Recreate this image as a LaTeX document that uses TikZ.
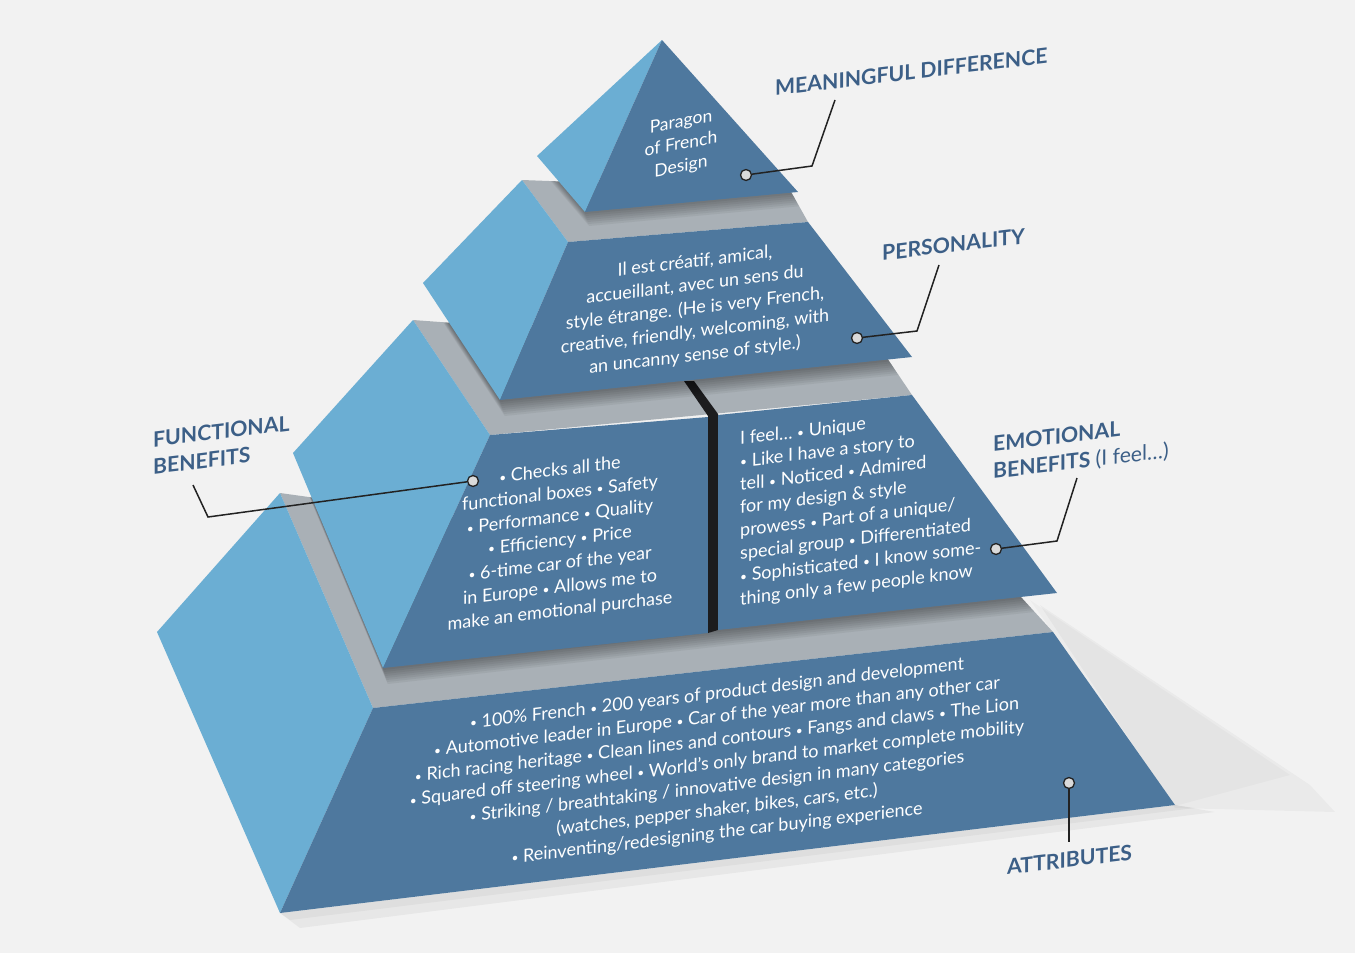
\documentclass[tikz,border=0pt]{standalone}
\usepackage{fontspec}
\setmainfont{Lato}
\definecolor{bg}{HTML}{F2F2F2}
\definecolor{sideblue}{HTML}{6BAED3}
\definecolor{frontblue}{HTML}{4E789E}
\definecolor{ledge}{HTML}{A9B0B6}
\definecolor{divider}{HTML}{1C1C1E}
\definecolor{labelblue}{HTML}{3C5F87}
\definecolor{linecol}{HTML}{222222}
\definecolor{dotfill}{HTML}{DADADA}
\newcommand\bu{{\fontsize{12}{12}\selectfont\raisebox{0.12ex}{•}}}
\begin{document}
\begin{tikzpicture}[x=1pt,y=-1pt,
  side/.style={fill=sideblue},
  front/.style={fill=frontblue},
  ledgetop/.style={fill=ledge},
  body/.style={text=white, align=center, inner sep=0pt, yslant=0.12,
    font=\fontsize{18}{23.5}\selectfont},
  lab/.style={text=labelblue, inner sep=0pt, yslant=0.12, align=left,
    font=\fontsize{21.2}{27}\selectfont\bfseries},
  conn/.style={draw=linecol, line width=1.5pt},
  dot/.style={circle, draw=linecol, fill=dotfill, line width=1.3pt,
    minimum size=11pt, inner sep=0pt}]

% background
\path[use as bounding box, fill=bg] (0,0) rectangle (1355,953);

% floor shadows
\fill[black, opacity=0.03] (1040,605) -- (1310,785) -- (1335,812) -- (1175,808) -- cycle;
\fill[black, opacity=0.025] (1030,600) -- (1290,775) -- (1175,806) -- cycle;
\fill[black, opacity=0.045] (280,913) -- (1175,805) -- (1215,812) -- (300,928) -- cycle;
\fill[black, opacity=0.035] (280,913) -- (1175,805) -- (1195,808) -- (290,920) -- cycle;

% ---------------- tier 4 (attributes)
\fill[ledgetop] (280,493) -- (1020,596) -- (1053,632) -- (373,708) -- cycle;
\fill[side] (280,493) -- (373,708) -- (280,913) -- (157,632) -- cycle;
\fill[front] (373,708) -- (1053,632) -- (1175,805) -- (280,913) -- cycle;
% shadow of tier 3 on the ledge
\begin{scope}
  \clip (280,493) -- (1020,596) -- (1053,632) -- (373,708) -- cycle;
  \foreach \s in {2,4,...,16}
    \fill[black, opacity=0.05, shift={(0.3*\s,\s)}]
      (413,320) -- (293,453) -- (383,668) -- (718,630) -- (1057,593) -- (912,395) -- cycle;
\end{scope}

% ---------------- tier 3 (functional / emotional)
\fill[ledgetop] (413,320) -- (885,355) -- (912,395) -- (490,435) -- cycle;
\fill[side] (413,320) -- (490,435) -- (383,668) -- (293,453) -- cycle;
\fill[front] (490,435) -- (708,417) -- (708,633) -- (383,668) -- cycle;
\fill[divider] (684,381) -- (694,381) -- (718,414) -- (718,630) -- (708,633) -- (708,416) -- cycle;
\fill[front] (718,415) -- (912,395) -- (1057,593) -- (718,630) -- cycle;
% shadow of tier 2
\begin{scope}
  \clip (413,320) -- (885,355) -- (912,395) -- (490,435) -- cycle;
  \foreach \s in {2,4,...,16}
    \fill[black, opacity=0.05, shift={(0.3*\s,\s)}]
      (522,180) -- (423,283) -- (500,400) -- (912,357) -- (808,222) -- cycle;
\end{scope}

% ---------------- tier 2 (personality)
\fill[ledgetop] (522,180) -- (790,190) -- (808,222) -- (568,242) -- cycle;
\fill[side] (522,180) -- (568,242) -- (500,400) -- (423,283) -- cycle;
\fill[front] (568,242) -- (808,222) -- (912,357) -- (500,400) -- cycle;
% shadow of tier 1
\begin{scope}
  \clip (522,180) -- (790,190) -- (808,222) -- (568,242) -- cycle;
  \foreach \s in {2,4,...,14}
    \fill[black, opacity=0.05, shift={(0.3*\s,\s)}]
      (662,40) -- (537,156) -- (585,212) -- (798,192) -- cycle;
\end{scope}

% ---------------- tier 1 (meaningful difference)
\fill[side] (662,40) -- (537,156) -- (585,212) -- cycle;
\fill[front] (662,40) -- (585,212) -- (798,192) -- cycle;

% ---------------- texts on the faces
\node[body, yslant=0.07, font=\fontsize{17.5}{22.5}\selectfont] (ttop) at (681,145)
  {Paragon\\of French\\Design};
\node[body] (tpers) at (695,309)
  {Il est créatif, amical,\\accueillant, avec un sens du\\style étrange. (He is very French,\\creative, friendly, welcoming, with\\an uncanny sense of style.)};
\node[body] (tfunc) at (560,541)
  {\bu{} Checks all the\\functional boxes \bu{} Safety\\\bu{} Performance \bu{} Quality\\\bu{} Efficiency \bu{} Price\\\bu{} 6-time car of the year\\in Europe \bu{} Allows me to\\make an emotional purchase};
\node[body, align=left, anchor=west, font=\fontsize{18}{22.9}\selectfont] (temo) at (740,520)
  {I feel… \bu{} Unique\\\bu{} Like I have a story to\\tell \bu{} Noticed \bu{} Admired\\for my design \& style\\prowess \bu{} Part of a unique/\\special group \bu{} Differentiated\\\bu{} Sophisticated \bu{} I know some-\\thing only a few people know};
\node[body, font=\fontsize{18}{23.3}\selectfont] (tattr) at (717,764)
  {\bu{} 100\% French \bu{} 200 years of product design and development\\\bu{} Automotive leader in Europe \bu{} Car of the year more than any other car\\\bu{} Rich racing heritage \bu{} Clean lines and contours \bu{} Fangs and claws \bu{} The Lion\\\bu{} Squared off steering wheel \bu{} World’s only brand to market complete mobility\\\bu{} Striking / breathtaking / innovative design in many categories\\(watches, pepper shaker, bikes, cars, etc.)\\\bu{} Reinventing/redesigning the car buying experience};

% ---------------- labels
\node[lab, anchor=west] (lmean) at (775,88) {MEANINGFUL DIFFERENCE};
\node[lab, anchor=west] (lpers) at (882,253) {PERSONALITY};
\node[lab, anchor=west] (lfunc) at (153,453) {FUNCTIONAL\\BENEFITS};
\node[lab, anchor=west] (lemo) at (993,459) {EMOTIONAL\\BENEFITS {\mdseries (I feel…)}};
\node[lab, anchor=west] (lattr) at (1007,867) {ATTRIBUTES};

% ---------------- connectors
\coordinate (bmean) at (812,166);
\coordinate (emean) at (835,100);
\coordinate (bpers) at (917,331);
\coordinate (epers) at (939,265);
\coordinate (bfunc) at (208,517);
\coordinate (efunc) at (193,485);
\coordinate (bemo) at (1057,541);
\coordinate (eemo) at (1077,478);
\coordinate (eattr) at (1069,842);

\node[dot] (dmean) at (746,175) {};
\node[dot] (dpers) at (857,338) {};
\node[dot] (dfunc) at (473,481) {};
\node[dot] (demo) at (996,549) {};
\node[dot] (dattr) at (1069,783) {};

\draw[conn] (dmean) -- (bmean) -- (emean);
\draw[conn] (dpers) -- (bpers) -- (epers);
\draw[conn] (dfunc) -- (bfunc) -- (efunc);
\draw[conn] (demo) -- (bemo) -- (eemo);
\draw[conn] (dattr) -- (eattr);
\end{tikzpicture}
\end{document}
